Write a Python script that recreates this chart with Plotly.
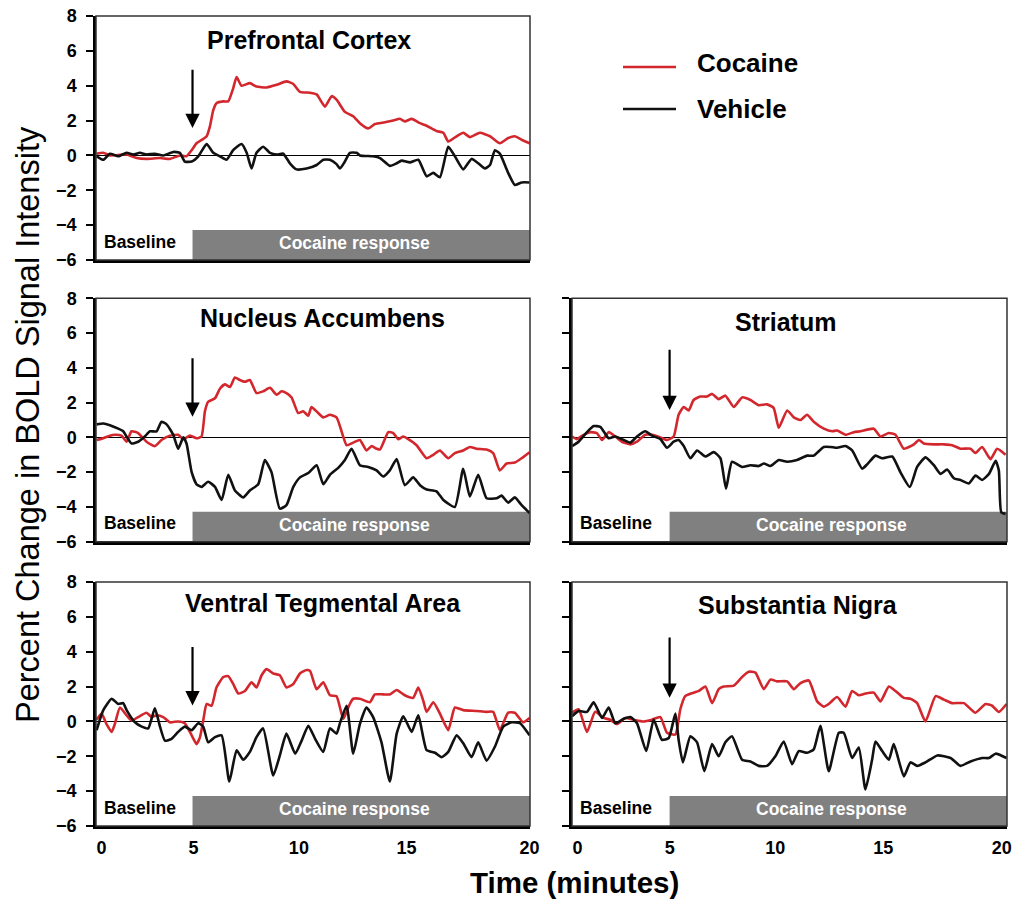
import plotly.graph_objects as go

# ---------------- data (time in minutes, % change in BOLD) ----------------
pfc_coc_t = [-0.23, 0.08, 0.39, 1.17, 1.64, 2.10, 2.73, 3.19, 3.66, 3.97, 4.21, 4.44, 4.75, 4.91, 5.06, 5.22, 5.37, 5.69, 5.92, 6.15,
             6.31, 6.54, 6.93, 7.24, 7.71, 8.18, 8.64, 8.96, 9.27, 9.74, 10.05, 10.44, 10.75, 10.98, 11.37, 11.76, 12.07, 12.46, 12.77, 13.24,
             13.63, 13.94, 14.17, 14.49, 14.88, 15.19, 15.65, 15.97, 16.20, 16.59, 16.90, 17.21, 17.68, 18.15, 18.61, 19.00, 19.31, 19.63, 20.0]
pfc_coc = [0.1, 0.15, 0, 0.05, -0.15, -0.2, -0.15, -0.2, 0, -0.05, 0.3, 0.7, 0.95, 1.1, 1.65, 2.6, 3.0, 3.1, 3.1, 3.85,
           4.5, 4.0, 4.15, 3.95, 3.9, 4.05, 4.25, 4.1, 3.65, 3.6, 3.5, 2.8, 3.4, 3.2, 2.5, 2.25, 1.85, 1.55, 1.8, 1.9,
           2.0, 2.1, 1.95, 2.1, 1.85, 1.7, 1.4, 1.3, 0.8, 1.1, 1.3, 1.05, 1.3, 1.1, 0.7, 1.0, 1.1, 0.9, 0.7]
pfc_veh_t = [-0.23, 0.08, 0.39, 0.78, 1.17, 1.48, 1.79, 2.10, 2.49, 2.88, 3.35, 3.66, 3.89, 4.21, 4.52, 4.91, 5.22, 5.53, 5.84, 6.15,
             6.54, 6.78, 7.01, 7.24, 7.55, 7.87, 8.18, 8.49, 8.80, 9.11, 9.58, 10.05, 10.36, 10.67, 10.98, 11.14, 11.37, 11.60, 11.92, 12.07,
             12.69, 13.01, 13.47, 13.79, 14.02, 14.41, 14.80, 15.19, 15.50, 15.81, 16.20, 16.51, 16.90, 17.29, 17.60, 17.91, 18.15, 18.38, 18.61, 19.00,
             19.31, 19.63, 20.0]
pfc_veh = [-0.05, -0.25, 0.1, -0.05, 0.15, 0.05, 0.15, 0.05, 0.1, 0, 0.2, 0.15, -0.35, -0.35, -0.05, 0.65, 0.15, -0.05, -0.25, 0.3,
           0.65, 0.15, -0.75, 0.15, 0.5, 0.15, 0.05, 0.1, -0.45, -0.8, -0.75, -0.55, -0.25, -0.25, -0.5, -0.75, -0.35, 0.15, 0.15, 0,
           -0.05, -0.15, -0.6, -0.45, -0.3, -0.4, -0.25, -1.2, -1.0, -1.25, 0.5, -0.05, -0.8, -0.2, -0.45, -0.75, -0.55, 0.3, 0.1, -1.0,
           -1.7, -1.55, -1.55]

nac_coc_t = [-0.23, 0.08, 0.39, 0.62, 0.93, 1.17, 1.40, 1.71, 2.10, 2.49, 2.80, 3.19, 3.58, 3.82, 4.13, 4.44, 4.67, 4.83, 4.98, 5.30,
             5.53, 5.76, 6.00, 6.23, 6.46, 6.70, 6.93, 7.24, 7.55, 7.87, 8.18, 8.41, 8.64, 8.88, 9.19, 9.42, 9.66, 9.81, 10.12, 10.36,
             10.67, 10.98, 11.29, 11.45, 11.76, 12.07, 12.38, 12.62, 12.85, 13.01, 13.40, 13.63, 13.86, 14.10, 14.33, 14.72, 15.19, 15.50, 15.81, 16.20,
             16.51, 16.90, 17.21, 17.52, 17.99, 18.30, 18.61, 18.93, 19.31, 19.63, 20.0]
nac_coc = [-0.15, -0.05, 0.1, 0.15, 0.1, -0.25, 0.35, 0.25, -0.25, -0.5, -0.15, 0.1, 0.15, -0.1, 0.1, -0.05, 0.05, 1.5, 2.05, 2.25,
           2.8, 3.05, 2.9, 3.45, 3.3, 3.2, 3.3, 2.55, 2.65, 2.85, 2.45, 2.65, 2.55, 2.3, 1.4, 1.5, 1.25, 1.75, 1.4, 1.15,
           1.3, 1.15, 0.05, -0.45, -0.3, -0.15, -0.75, -0.5, -0.65, -0.7, 0.3, 0.25, -0.1, 0.05, -0.1, -0.45, -1.2, -1.0, -0.75, -1.2,
           -0.9, -0.75, -0.55, -0.65, -0.7, -0.9, -1.9, -1.5, -1.45, -1.2, -0.85]
nac_veh_t = [-0.23, 0.08, 0.39, 0.78, 1.01, 1.17, 1.40, 1.71, 2.02, 2.26, 2.57, 2.80, 3.04, 3.35, 3.58, 3.82, 3.97, 4.21, 4.44, 4.67,
             4.98, 5.30, 5.61, 5.92, 6.23, 6.62, 6.93, 7.32, 7.63, 7.94, 8.33, 8.64, 8.96, 9.27, 9.66, 10.05, 10.36, 10.67, 11.06, 11.37,
             11.68, 12.07, 12.46, 12.85, 13.16, 13.47, 13.79, 14.17, 14.56, 14.88, 15.19, 15.65, 15.97, 16.51, 16.90, 17.21, 17.60, 17.99, 18.46, 18.69,
             19.00, 19.31, 19.63, 20.0]
nac_veh = [0.75, 0.8, 0.7, 0.5, 0.35, 0.05, -0.35, -0.25, 0.05, 0.35, 0.35, 0.9, 0.75, 0.15, -0.65, 0, -0.35, -2.0, -2.7, -2.85,
           -2.55, -2.85, -3.6, -2.15, -3.05, -3.45, -3.05, -2.7, -1.3, -2.0, -4.1, -3.9, -2.85, -2.3, -2.05, -1.6, -2.7, -2.15, -1.75, -1.3,
           -0.65, -1.6, -1.7, -1.9, -2.25, -1.9, -1.25, -2.75, -2.3, -2.75, -3.0, -3.1, -3.6, -4.0, -1.8, -3.4, -2.15, -3.5, -3.5, -3.35,
           -3.75, -3.45, -3.9, -4.35]

str_coc_t = [-0.26, -0.03, 0.28, 0.59, 0.90, 1.14, 1.45, 1.76, 2.07, 2.46, 2.77, 3.16, 3.47, 3.86, 4.17, 4.48, 4.71, 4.95, 5.18, 5.41,
             5.72, 6.03, 6.27, 6.58, 6.89, 7.28, 7.67, 8.06, 8.44, 8.83, 9.14, 9.38, 9.77, 10.08, 10.39, 10.70, 11.01, 11.48, 11.87, 12.10,
             12.49, 12.88, 13.19, 13.81, 14.12, 14.51, 14.82, 15.21, 15.68, 15.91, 16.14, 16.61, 17.08, 17.46, 17.85, 18.32, 18.55, 18.86, 19.25, 19.56,
             19.95]
str_coc = [0.05, -0.1, 0.15, 0.3, 0.25, -0.15, 0.3, 0.05, -0.25, -0.4, -0.25, 0.15, 0.15, 0, -0.15, 0.05, 1.3, 1.75, 1.55, 2.15,
           2.35, 2.35, 2.5, 2.2, 2.4, 1.75, 2.3, 2.15, 1.85, 1.9, 1.7, 0.55, 1.55, 1.15, 1.0, 1.3, 0.9, 0.5, 0.35, 0.4,
           0.15, 0.3, 0.35, 0.5, 0.05, 0.25, 0.15, -0.65, -0.4, -0.15, -0.35, -0.4, -0.4, -0.45, -0.65, -0.65, -0.9, -0.55, -1.25, -0.65,
           -1.0]
str_veh_t = [-0.26, 0.05, 0.44, 0.75, 1.06, 1.45, 1.76, 2.15, 2.46, 2.77, 3.16, 3.47, 3.86, 4.17, 4.48, 4.71, 4.95, 5.26, 5.57, 5.96,
             6.35, 6.66, 6.92, 7.20, 7.67, 8.06, 8.44, 8.68, 8.99, 9.38, 9.77, 10.23, 10.70, 11.01, 11.48, 11.79, 12.10, 12.49, 12.80, 13.27,
             13.50, 13.89, 14.20, 14.67, 15.05, 15.49, 15.83, 16.22, 16.61, 16.92, 17.23, 17.54, 17.85, 18.24, 18.55, 18.86, 19.18, 19.49, 19.64, 19.75,
             19.95]
str_veh = [-0.5, -0.25, 0.3, 0.65, 0.6, -0.05, 0.05, -0.15, -0.3, 0.05, 0.35, 0.1, -0.1, -0.6, -0.25, -0.15, -0.5, -1.2, -0.75, -1.1,
           -0.85, -1.2, -2.95, -1.4, -1.7, -1.6, -1.65, -1.5, -1.65, -1.3, -1.4, -1.3, -1.05, -1.05, -0.55, -0.55, -0.6, -0.5, -0.75, -1.8,
           -1.55, -1.05, -1.2, -1.1, -2.0, -2.85, -1.7, -1.15, -1.6, -2.1, -1.85, -2.35, -2.45, -2.65, -2.2, -2.45, -2.1, -1.35, -1.9, -4.3,
           -4.4]

vta_coc_t = [-0.23, 0, 0.23, 0.47, 0.62, 0.86, 1.17, 1.40, 1.71, 2.10, 2.34, 2.57, 2.88, 3.19, 3.58, 3.89, 4.21, 4.44, 4.60, 4.75,
             4.91, 5.14, 5.37, 5.69, 5.92, 6.15, 6.39, 6.70, 7.01, 7.24, 7.48, 7.71, 8.02, 8.33, 8.64, 8.96, 9.27, 9.58, 9.74, 10.05,
             10.36, 10.67, 10.98, 11.29, 11.45, 11.60, 11.76, 12.07, 12.54, 12.77, 13.16, 13.47, 13.79, 14.17, 14.56, 14.80, 15.03, 15.19, 15.50, 15.81,
             16.20, 16.51, 16.90, 17.52, 17.99, 18.30, 18.61, 19.00, 19.31, 19.70, 20.0]
vta_coc = [0.1, 0.45, -0.15, -0.6, -0.15, 0.8, 0.35, 0.05, 0.25, 0.5, 0.25, 0.35, 0.25, -0.05, 0, -0.1, -0.8, -1.3, -0.9, 0.05,
           1.0, 0.9, 1.95, 2.55, 2.6, 2.15, 1.6, 1.75, 2.25, 1.95, 2.65, 3.0, 2.75, 2.65, 1.95, 2.15, 2.75, 2.95, 2.9, 1.85,
           2.25, 1.5, 1.45, 0.15, 0.55, 1.0, 1.3, 1.3, 1.1, 1.55, 1.55, 1.55, 1.8, 1.5, 1.35, 1.95, 1.2, 0.55, 1.1, 0.45,
           -0.5, 0.8, 0.65, 0.6, 0.55, 0.55, -0.5, 0.5, 0.5, -0.05, 0.2]
vta_veh_t = [-0.23, 0.08, 0.47, 0.78, 1.01, 1.17, 1.56, 1.88, 2.18, 2.49, 2.73, 2.96, 3.27, 3.58, 3.89, 4.21, 4.52, 4.75, 4.98, 5.30,
             5.61, 5.97, 6.31, 6.62, 6.93, 7.24, 7.55, 8.02, 8.33, 8.64, 9.05, 9.35, 9.66, 9.98, 10.36, 10.67, 10.98, 11.14, 11.45, 11.76,
             12.07, 12.38, 12.69, 13.08, 13.47, 13.79, 14.10, 14.49, 14.80, 15.19, 15.58, 15.89, 16.20, 16.59, 16.90, 17.29, 17.60, 17.99, 18.38, 18.77,
             19.16, 19.55, 20.0]
vta_veh = [-0.5, 0.65, 1.3, 1.0, 1.05, 0.65, -0.05, -0.3, -0.4, 0.75, -0.3, -1.1, -1.0, -0.6, -0.3, -0.5, -0.1, -0.3, -1.2, -0.9,
           -0.8, -3.45, -1.65, -2.2, -1.75, -0.9, -0.4, -3.1, -1.95, -0.7, -1.85, -1.1, -0.25, -1.0, -1.75, -0.4, -0.7, -0.1, 0.9, -1.85,
           -0.15, 0.8, 0.25, -1.2, -3.45, -0.7, 0.3, -0.6, 0.35, -1.65, -1.8, -2.05, -1.75, -0.8, -1.25, -2.05, -1.2, -2.25, -1.45, -0.3,
           -0.05, -0.1, -0.8]

sn_coc_t = [-0.26, 0.05, 0.44, 0.82, 1.21, 1.52, 1.84, 2.22, 2.61, 3.08, 3.47, 3.86, 4.17, 4.56, 4.79, 5.02, 5.41, 5.65, 5.96, 6.27,
            6.58, 6.81, 7.28, 7.67, 7.98, 8.29, 8.68, 8.99, 9.30, 9.77, 10.08, 10.39, 10.78, 11.17, 11.48, 11.71, 12.10, 12.49, 12.80, 13.11,
            13.42, 13.81, 14.12, 14.51, 14.82, 15.21, 15.52, 15.83, 16.22, 16.69, 17.08, 17.46, 18.01, 18.55, 19.02, 19.33, 19.64, 20.0]
sn_coc = [0.5, 0.7, -0.6, 0.55, 0.2, 0.1, -0.15, 0.2, 0.1, 0, 0.1, 0.25, -0.65, -0.75, 0.7, 1.45, 1.65, 1.75, 2.0, 1.05,
          1.85, 2.0, 2.05, 2.55, 2.85, 2.8, 1.85, 2.4, 2.3, 2.3, 1.85, 2.2, 2.35, 1.15, 0.85, 1.0, 1.4, 0.85, 1.75, 1.5,
          1.6, 1.65, 1.15, 2.0, 1.75, 1.35, 1.3, 1.05, 0, 1.45, 1.25, 1.05, 1.05, 0.5, 1.0, 0.9, 0.55, 1.0]
sn_veh_t = [-0.26, 0.05, 0.44, 0.75, 1.14, 1.45, 1.76, 2.15, 2.46, 2.77, 3.20, 3.55, 3.93, 4.25, 4.56, 4.71, 4.91, 5.26, 5.57, 5.91,
            6.27, 6.58, 6.89, 7.20, 7.67, 8.06, 8.44, 8.83, 9.22, 9.61, 10.00, 10.31, 10.70, 11.01, 11.32, 11.71, 12.18, 12.41, 12.80, 13.11,
            13.42, 13.73, 13.89, 14.20, 14.51, 14.74, 15.21, 15.52, 15.83, 16.22, 16.77, 17.39, 17.85, 18.32, 18.86, 19.18, 19.49, 20.0]
sn_veh = [0.3, 0.6, 0.55, 1.1, 0.2, 0.8, -0.1, 0.15, 0.25, -0.1, -1.7, 0.1, -1.05, -0.95, 0.45, -1.05, -2.35, -0.85, -1.2, -2.85,
          -1.3, -2.0, -1.2, -0.85, -2.2, -2.3, -2.55, -2.55, -2.0, -1.15, -2.45, -1.7, -1.8, -1.6, -0.25, -2.85, -0.65, -0.65, -2.1, -1.5,
          -3.9, -2.2, -1.15, -1.7, -2.2, -1.3, -3.15, -2.35, -2.55, -2.35, -1.95, -2.1, -2.55, -2.3, -2.1, -2.1, -1.85, -2.1]

x_tick_vals_left = [0, 4.3, 9.22, 14.25, 20]
x_tick_vals_right = [0, 4.3, 9.22, 14.25, 19.78]
x_tick_text = ["0", "5", "10", "15", "20"]
y_ticks = [-6, -4, -2, 0, 2, 4, 6, 8]
series_names = ["Cocaine", "Vehicle"]
region_names = ["Prefrontal Cortex", "Nucleus Accumbens", "Striatum", "Ventral Tegmental Area", "Substantia Nigra"]

# ---------------- layout / style ----------------
RED = "#d3272e"
BLACK = "#111111"
FONT = "Liberation Sans, Arial, sans-serif"
W, H = 1013, 899


def px(xp):   # page pixel -> paper x
    return min(1.0, max(0.0, xp / W))


def py(yp):   # page pixel -> paper y
    return min(1.0, max(0.0, 1 - yp / H))


X_DOM = [(px(96), px(530)), (px(572), px(1007))]
Y_DOM = [(py(260), py(16)), (py(541.7), py(298.3)), (py(826), py(582))]
X_RANGE = [-0.26, 20.02]

panels = [
    dict(row=0, col=0, coc_t=pfc_coc_t, coc=pfc_coc, veh_t=pfc_veh_t, veh=pfc_veh, tx=0.49, ty=0.9, arrow=(4.25, 5.0, 1.57)),
    dict(row=1, col=0, coc_t=nac_coc_t, coc=nac_coc, veh_t=nac_veh_t, veh=nac_veh, tx=0.523, ty=0.918, arrow=(4.25, 4.64, 1.19)),
    dict(row=1, col=1, coc_t=str_coc_t, coc=str_coc, veh_t=str_veh_t, veh=str_veh, tx=0.49, ty=0.904, arrow=(4.29, 5.12, 1.57)),
    dict(row=2, col=0, coc_t=vta_coc_t, coc=vta_coc, veh_t=vta_veh_t, veh=vta_veh, tx=0.523, ty=0.914, arrow=(4.25, 4.35, 0.92)),
    dict(row=2, col=1, coc_t=sn_coc_t, coc=sn_coc, veh_t=sn_veh_t, veh=sn_veh, tx=0.52, ty=0.906, arrow=(4.29, 4.9, 1.36)),
]

fig = go.Figure()
shapes, annotations = [], []
layout_axes = {}
TICKFONT = dict(family=FONT, size=18, color="black", weight="bold")

for i, p in enumerate(panels):
    n = i + 1
    xs = "x" if n == 1 else f"x{n}"
    ys = "y" if n == 1 else f"y{n}"
    xk = "xaxis" if n == 1 else f"xaxis{n}"
    yk = "yaxis" if n == 1 else f"yaxis{n}"
    for k, (tt, vv, col) in enumerate([(p["coc_t"], p["coc"], RED), (p["veh_t"], p["veh"], BLACK)]):
        if len(tt) != len(vv):
            print("length mismatch", region_names[i], k, len(tt), len(vv))
        fig.add_trace(go.Scatter(
            x=tt, y=vv, mode="lines", name=series_names[k], legendgroup=series_names[k],
            showlegend=False, line=dict(color=col, width=2.6, shape="spline", smoothing=0.5),
            xaxis=xs, yaxis=ys, hoverinfo="skip"))

    layout_axes[xk] = dict(
        domain=list(X_DOM[p["col"]]), range=X_RANGE, anchor=ys, automargin=False,
        showline=True, linecolor="black", linewidth=2.5, mirror=False,
        showgrid=False, zeroline=False, ticks="",
        tickvals=x_tick_vals_left if p["col"] == 0 else x_tick_vals_right, ticktext=x_tick_text,
        ticklabelstandoff=4, ticklabeloverflow="allow",
        showticklabels=(p["row"] == 2), tickfont=TICKFONT)
    layout_axes[yk] = dict(
        domain=list(Y_DOM[p["row"]]), range=[-6, 8], anchor=xs, automargin=False,
        showline=True, linecolor="black", linewidth=2.5, mirror=False,
        showgrid=False, zeroline=True, zerolinecolor="black", zerolinewidth=1,
        ticks="outside", ticklen=7, tickwidth=1.5, tickcolor="black", ticklabelstandoff=6,
        tickvals=y_ticks, showticklabels=(p["col"] == 0), tickfont=TICKFONT)

    # frame (top / right)
    shapes.append(dict(type="rect", xref=f"{xs} domain", yref=f"{ys} domain", x0=0, x1=1, y0=0, y1=1,
                       line=dict(color="#333333", width=1.5), layer="above"))
    bar_x0 = p["arrow"][0]
    # cocaine-response bar
    shapes.append(dict(type="rect", xref=xs, yref=ys, x0=bar_x0, x1=X_RANGE[1], y0=-6, y1=-4.28,
                       fillcolor="#808080", line=dict(width=0), layer="below"))
    annotations.append(dict(xref=xs, yref=ys, x=(bar_x0 + X_RANGE[1]) / 2 - 0.3, y=-5.05, text="Cocaine response",
                            xanchor="center", yanchor="middle", showarrow=False,
                            font=dict(family=FONT, size=17.5, color="white", weight="bold")))
    annotations.append(dict(xref=xs, yref=ys, x=1.8, y=-4.95, text="Baseline", xanchor="center", yanchor="middle",
                            showarrow=False, font=dict(family=FONT, size=17.5, color="black", weight="bold")))
    # injection arrow
    ax_x, ax_top, ax_tip = p["arrow"]
    annotations.append(dict(xref=xs, yref=ys, axref=xs, ayref=ys, x=ax_x, y=ax_tip, ax=ax_x, ay=ax_top,
                            text="", showarrow=True, arrowhead=2, arrowsize=1.3, arrowwidth=2.2, arrowcolor="black"))
    # region title
    annotations.append(dict(xref=f"{xs} domain", yref=f"{ys} domain", x=p["tx"], y=p["ty"], text=region_names[i],
                            xanchor="center", yanchor="middle", showarrow=False,
                            font=dict(family=FONT, size=25, color="black", weight="bold")))

# legend (drawn with line shapes + labels)
legend_rows = [(series_names[0], RED, 67, 63), (series_names[1], BLACK, 109, 109)]
for name, col, ly, ty in legend_rows:
    shapes.append(dict(type="line", xref="paper", yref="paper", x0=px(623), x1=px(676), y0=py(ly), y1=py(ly),
                       line=dict(color=col, width=2.5)))
    annotations.append(dict(xref="paper", yref="paper", x=px(695), y=py(ty), text=name, xanchor="left",
                            yanchor="middle", showarrow=False,
                            font=dict(family=FONT, size=26, color="black", weight="bold")))

annotations.append(dict(xref="paper", yref="paper", x=px(28), y=py(425), text="Percent Change in BOLD Signal Intensity",
                        textangle=-90, xanchor="center", yanchor="middle", showarrow=False,
                        font=dict(family=FONT, size=32.5, color="black")))
annotations.append(dict(xref="paper", yref="paper", x=px(574), y=py(882), text="Time (minutes)",
                        xanchor="center", yanchor="middle", showarrow=False,
                        font=dict(family=FONT, size=29.5, color="black", weight="bold")))

fig.update_layout(
    width=W, height=H, margin=dict(l=0, r=0, t=0, b=0, autoexpand=False),
    paper_bgcolor="white", plot_bgcolor="white", showlegend=False,
    shapes=shapes, annotations=annotations,
    **layout_axes,
)

# remove the browser's default 8px page margin so the figure fills the window exactly
fig.write_html("out.html", config={"displayModeBar": False},
               post_script="document.body.style.margin='0';document.body.style.overflow='hidden';")
